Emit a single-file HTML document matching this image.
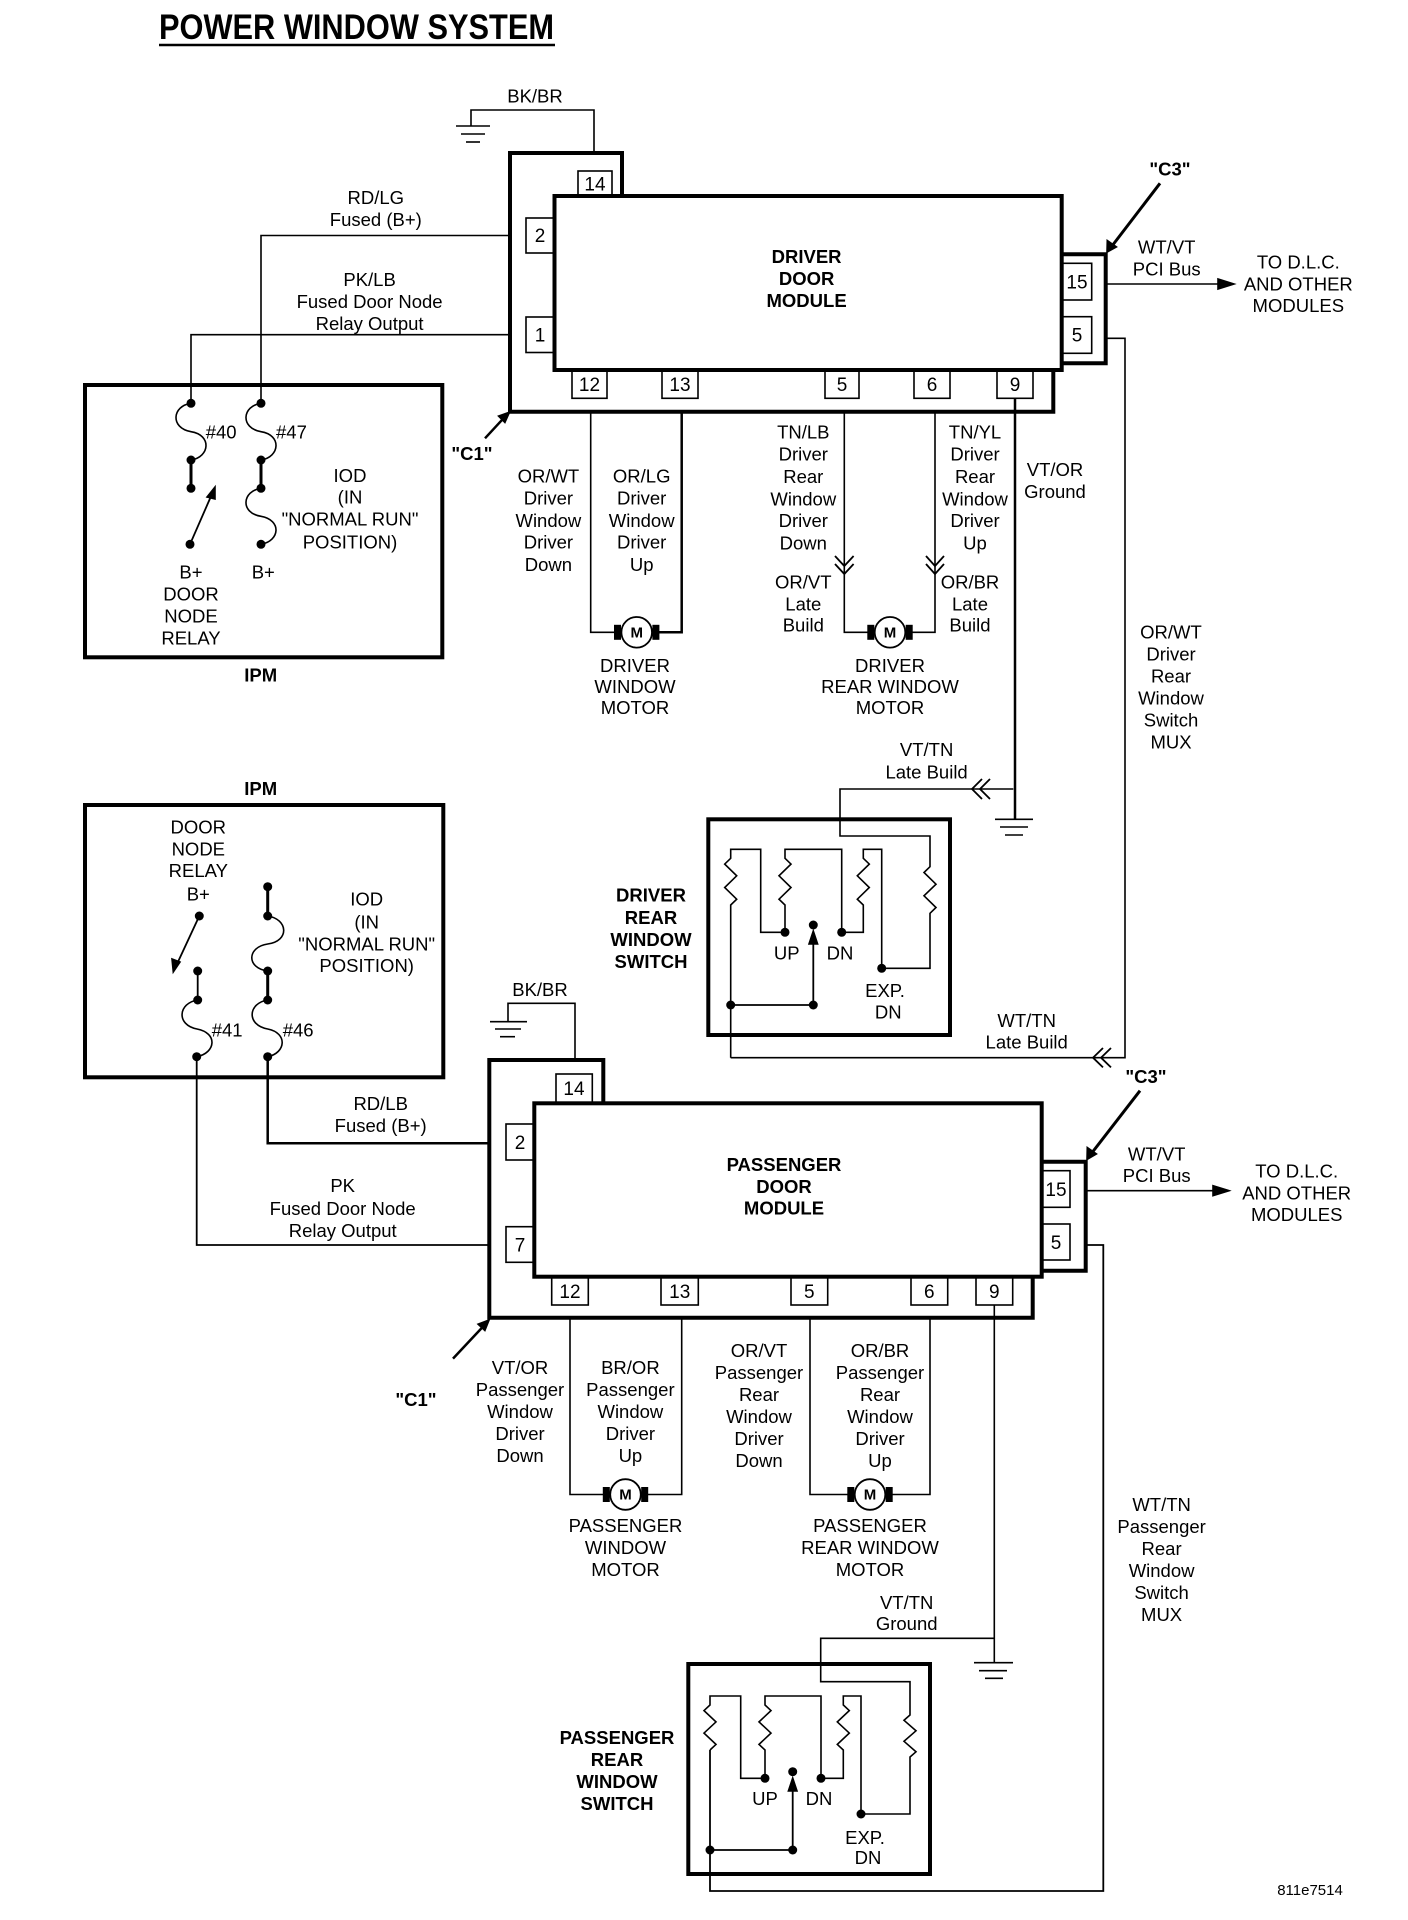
<!DOCTYPE html>
<html><head><meta charset="utf-8"><style>
html,body{margin:0;padding:0;background:#fff;}
svg{display:block;}
text{font-family:"Liberation Sans",Arial,sans-serif;font-size:18.5px;fill:#000;text-anchor:middle;}
.b{font-weight:bold;}
.p{font-size:19px;}
.s{text-anchor:start;}
</style></head><body>
<svg width="1408" height="1920" viewBox="0 0 1408 1920" xmlns="http://www.w3.org/2000/svg">
<g fill="none" stroke="#000" stroke-width="1.6">

<line x1="159" y1="45" x2="555" y2="45" stroke-width="2.5"/>

<polyline points="471,126 471,110 594,110 594,153"/>
<line x1="456" y1="126" x2="490" y2="126"/>
<line x1="461" y1="134" x2="485" y2="134"/>
<line x1="466" y1="142" x2="480" y2="142"/>

<polyline points="622,196 622,153 510,153 510,411.7 1053.3,411.7 1053.3,370" stroke-width="4"/>
<rect x="554.5" y="196" width="507.2" height="174" stroke-width="4"/>
<rect x="578" y="171" width="34" height="25"/>
<rect x="526" y="218" width="28.5" height="35"/>
<rect x="526" y="317" width="28.5" height="35.5"/>
<rect x="572" y="370" width="35" height="28.3"/>
<rect x="662" y="370" width="36" height="28.3"/>
<rect x="825" y="370" width="34" height="28.3"/>
<rect x="914" y="370" width="36" height="28.3"/>
<rect x="997" y="370" width="36" height="28.3"/>
<polyline points="1061.7,254.3 1105.7,254.3 1105.7,363.3 1061.7,363.3" stroke-width="4"/>
<rect x="1062.7" y="263.3" width="29" height="36.7"/>
<rect x="1062.7" y="316.7" width="29" height="36.6"/>
<line x1="1105.7" y1="284" x2="1222" y2="284"/>
<polygon points="1234,284 1218,279 1218,289" fill="#000"/>
<line x1="1160" y1="183.3" x2="1112" y2="246" stroke-width="3"/>
<polygon points="1106.7,252.7 1107,240 1117,247" fill="#000" stroke-width="1"/>

<line x1="485" y1="438.3" x2="505" y2="416.7" stroke-width="2.5"/>
<polygon points="510,411.7 498,416 505,423" fill="#000" stroke-width="1"/>

<polyline points="509.8,235.5 261,235.5 261,403.3"/>
<polyline points="509.8,334.7 191,334.7 191,403.3"/>

<rect x="85" y="385" width="357.3" height="272.3" stroke-width="4"/>
<path d="M191,403.3 C172,406 170,428 191,431.7 C212,435 210,457 191,460"/>
<line x1="191" y1="460" x2="191" y2="488.3" stroke-width="3"/>
<line x1="190" y1="544.3" x2="212" y2="494" stroke-width="1.8"/>
<polygon points="215,487 207,497 215,499" fill="#000"/>
<path d="M261,403.3 C242,406 240,428 261,431.7 C282,435 280,457 261,460"/>
<line x1="261" y1="460" x2="261" y2="488.3" stroke-width="3"/>
<path d="M261,488.3 C242,491 240,513 261,516.3 C282,520 280,541 261,544.3"/>

<polyline points="590.7,411.7 590.7,632.3 621,632.3"/>
<polyline points="681.7,411.7 681.7,632.3 652,632.3" stroke-width="2.5"/>
<circle cx="636.7" cy="632.3" r="15.3" stroke-width="1.8"/>
<polyline points="844.3,411.7 844.3,632.3 875,632.3"/>
<polyline points="935,411.7 935,632.3 905,632.3"/>
<circle cx="890" cy="632.3" r="15.3" stroke-width="1.8"/>
<polyline points="835,556 844.3,566 853.6,556" stroke-width="1.8"/>
<polyline points="835,564 844.3,574 853.6,564" stroke-width="1.8"/>
<polyline points="926,556 935,566 944,556" stroke-width="1.8"/>
<polyline points="926,564 935,574 944,564" stroke-width="1.8"/>

<line x1="1015" y1="398.3" x2="1015" y2="819.3" stroke-width="2.5"/>
<line x1="995" y1="819.3" x2="1033" y2="819.3"/>
<line x1="1000" y1="827" x2="1028" y2="827"/>
<line x1="1005" y1="835" x2="1023" y2="835"/>
<polyline points="1105.7,338.3 1125,338.3 1125,1057.7 730.7,1057.7"/>
<polyline points="1103,1048 1093,1057.7 1103,1067.4" stroke-width="1.8"/>
<polyline points="1111,1048 1101,1057.7 1111,1067.4" stroke-width="1.8"/>

<rect x="708.3" y="819.3" width="241.7" height="215.7" stroke-width="4"/>
<polyline points="1013.3,789 840,789 840,836 930,836 930,866.7 924,872.5 936,884.2 924,895.8 936,907.5 930,913.3 930,968.3 881.7,968.3"/>
<polyline points="982,779 972,789 982,799" stroke-width="1.8"/>
<polyline points="990,779 980,789 990,799" stroke-width="1.8"/>
<polyline points="785,932.3 760.7,932.3 760.7,849.3 730.7,849.3 730.7,858.3 724.7,864.1 736.7,875.8 724.7,887.5 736.7,899.2 730.7,905 730.7,1057.7"/>
<polyline points="785,932.3 785,905 779,899.2 791,887.5 779,875.8 791,864.1 785,858.3 785,849.3 841.7,849.3 841.7,932.3 863.3,932.3 863.3,905 857.3,899.2 869.3,887.5 857.3,875.8 869.3,864.1 863.3,858.3 863.3,849.3 881.7,849.3 881.7,968.3"/>
<polyline points="730.7,1005 813.3,1005 813.3,940" stroke-width="1.8"/>
<polygon points="813.3,931 809,944 817.6,944" fill="#000"/>

<rect x="85" y="805" width="358.3" height="272.3" stroke-width="4"/>
<line x1="199.3" y1="916" x2="177" y2="964" stroke-width="1.8"/>
<polygon points="173.3,972 172,959 180,962" fill="#000"/>
<line x1="197.7" y1="971" x2="197.7" y2="1000" stroke-width="1.8"/>
<path d="M197.7,1000 C178,1003 176,1025 197,1029 C218,1033 216,1053 196.7,1056.7"/>
<line x1="267.7" y1="886.7" x2="267.7" y2="916" stroke-width="3"/>
<path d="M267.7,916 C288,919 290,941 267.7,944 C247,947 246,968 267.7,971"/>
<line x1="267.7" y1="971" x2="267.7" y2="1000" stroke-width="3"/>
<path d="M267.7,1000 C248,1003 246,1025 267.7,1029 C288,1033 286,1053 267.7,1056.7"/>
<polyline points="267.7,1056.7 267.7,1143.3 489.3,1143.3" stroke-width="2.5"/>
<polyline points="196.7,1056.7 196.7,1245 489.3,1245" stroke-width="1.8"/>

<polyline points="508,1021.7 508,1003.3 575,1003.3 575,1060"/>
<line x1="490" y1="1021.7" x2="527" y2="1021.7"/>
<line x1="495" y1="1029" x2="521" y2="1029"/>
<line x1="500" y1="1036.7" x2="515" y2="1036.7"/>

<polyline points="603.3,1103.3 603.3,1060 489.3,1060 489.3,1317.7 1032.7,1317.7 1032.7,1276.7" stroke-width="4"/>
<rect x="534.3" y="1103.3" width="507.4" height="173.4" stroke-width="4"/>
<rect x="556" y="1074" width="36.3" height="29.3"/>
<rect x="506" y="1124" width="28.3" height="36"/>
<rect x="506" y="1226.7" width="28.3" height="35.6"/>
<rect x="551.7" y="1276.7" width="36.6" height="28.3"/>
<rect x="661" y="1276.7" width="37.3" height="28.3"/>
<rect x="791" y="1276.7" width="36.7" height="28.3"/>
<rect x="911" y="1276.7" width="36.7" height="28.3"/>
<rect x="976" y="1276.7" width="36.7" height="28.3"/>
<polyline points="1041.7,1161.7 1085.7,1161.7 1085.7,1270.7 1041.7,1270.7" stroke-width="4"/>
<rect x="1042" y="1170.7" width="28" height="36.6"/>
<rect x="1042" y="1224" width="28" height="36"/>
<line x1="1085.7" y1="1190.7" x2="1217" y2="1190.7"/>
<polygon points="1229,1190.7 1213,1185.7 1213,1195.7" fill="#000"/>
<line x1="1140" y1="1090.7" x2="1091" y2="1154" stroke-width="3"/>
<polygon points="1086.7,1160 1087,1147 1097,1154" fill="#000" stroke-width="1"/>
<line x1="453" y1="1358.6" x2="485" y2="1324.5" stroke-width="2.5"/>
<polygon points="489.6,1319.5 477.5,1324 485,1331" fill="#000" stroke-width="1"/>

<polyline points="570,1317.7 570,1494.5 610,1494.5"/>
<polyline points="681.7,1317.7 681.7,1494.5 641,1494.5"/>
<circle cx="625.5" cy="1494.5" r="15.3" stroke-width="1.8"/>
<polyline points="810,1317.7 810,1494.5 855,1494.5"/>
<polyline points="930,1317.7 930,1494.5 885,1494.5"/>
<circle cx="870" cy="1494.5" r="15.3" stroke-width="1.8"/>

<line x1="994.3" y1="1305" x2="994.3" y2="1662.7"/>
<line x1="974" y1="1662.7" x2="1013" y2="1662.7"/>
<line x1="979" y1="1670.7" x2="1007" y2="1670.7"/>
<line x1="985" y1="1678.3" x2="1003" y2="1678.3"/>
<polyline points="1085.7,1245 1103.3,1245 1103.3,1891 710,1891 710,1750" stroke-width="1.8"/>

<rect x="688.3" y="1664" width="241.7" height="210" stroke-width="4"/>
<polyline points="994.3,1638.3 820.7,1638.3 820.7,1681.7 910,1681.7 910,1715 904,1720.3 916,1730.8 904,1741.3 916,1751.8 910,1757 910,1814 861,1814"/>
<polyline points="765,1778.3 740.7,1778.3 740.7,1696 710,1696 710,1705 704,1710.6 716,1721.9 704,1733.1 716,1744.4 710,1750"/>
<polyline points="765,1778.3 765,1750 759,1744.4 771,1733.1 759,1721.9 771,1710.6 765,1705 765,1696 821,1696 821,1778.3 843.3,1778.3 843.3,1750 837.3,1744.4 849.3,1733.1 837.3,1721.9 849.3,1710.6 843.3,1705 843.3,1696 861,1696 861,1814"/>
<polyline points="710,1850 792.7,1850 792.7,1787" stroke-width="1.8"/>
<polygon points="792.7,1778 788.4,1791 797,1791" fill="#000"/>
</g>

<g fill="#000">
<circle cx="191" cy="403.3" r="4.5"/><circle cx="191" cy="460" r="4.5"/><circle cx="191" cy="488.3" r="4.5"/><circle cx="190" cy="544.3" r="4.5"/>
<circle cx="261" cy="403.3" r="4.5"/><circle cx="261" cy="460" r="4.5"/><circle cx="261" cy="488.3" r="4.5"/><circle cx="261" cy="544.3" r="4.5"/>
<circle cx="199.3" cy="916" r="4.5"/><circle cx="197.7" cy="971" r="4.5"/><circle cx="197.7" cy="1000" r="4.5"/><circle cx="196.7" cy="1056.7" r="4.5"/>
<circle cx="267.7" cy="886.7" r="4.5"/><circle cx="267.7" cy="916" r="4.5"/><circle cx="267.7" cy="971" r="4.5"/><circle cx="267.7" cy="1000" r="4.5"/><circle cx="267.7" cy="1056.7" r="4.5"/>
<circle cx="785" cy="932.3" r="4.5"/><circle cx="841.7" cy="932.3" r="4.5"/><circle cx="813.3" cy="925" r="4.5"/><circle cx="881.7" cy="968.3" r="4.5"/><circle cx="730.7" cy="1005" r="4.5"/><circle cx="813.3" cy="1005" r="4.5"/>
<circle cx="765" cy="1778.3" r="4.5"/><circle cx="821" cy="1778.3" r="4.5"/><circle cx="792.7" cy="1771.7" r="4.5"/><circle cx="861" cy="1814" r="4.5"/><circle cx="710" cy="1850" r="4.5"/><circle cx="792.7" cy="1850" r="4.5"/>
<rect x="614" y="624.8" width="7" height="15"/><rect x="652.4" y="624.8" width="7" height="15"/>
<rect x="867.3" y="624.8" width="7" height="15"/><rect x="905.7" y="624.8" width="7" height="15"/>
<rect x="602.8" y="1487" width="7" height="15"/><rect x="641.2" y="1487" width="7" height="15"/>
<rect x="847.3" y="1487" width="7" height="15"/><rect x="885.7" y="1487" width="7" height="15"/>
</g>

<text x="159" y="39" class="b s" style="font-size:35px" textLength="395" lengthAdjust="spacingAndGlyphs">POWER WINDOW SYSTEM</text>

<text x="535" y="102.5">BK/BR</text>
<text x="375.8" y="204">RD/LG</text><text x="375.8" y="226">Fused (B+)</text>
<text x="369.6" y="286">PK/LB</text><text x="369.6" y="308">Fused Door Node</text><text x="369.6" y="330">Relay Output</text>
<text class="b" x="806.6" y="263">DRIVER</text><text class="b" x="806.6" y="285">DOOR</text><text class="b" x="806.6" y="307">MODULE</text>
<text class="p" x="595" y="190.5">14</text><text class="p" x="540" y="242">2</text><text class="p" x="540" y="341.5">1</text>
<text class="p" x="589.5" y="391">12</text><text class="p" x="680" y="391">13</text><text class="p" x="842" y="391">5</text><text class="p" x="932" y="391">6</text><text class="p" x="1015" y="391">9</text>
<text class="p" x="1077" y="288.5">15</text><text class="p" x="1077" y="341.5">5</text>
<text class="b" x="1170" y="175.3">"C3"</text>
<text x="1166.7" y="253.7">WT/VT</text><text x="1166.7" y="275.3">PCI Bus</text>
<text x="1298.3" y="268.7">TO D.L.C.</text><text x="1298.3" y="290.3">AND OTHER</text><text x="1298.3" y="312">MODULES</text>
<text class="b" x="472" y="460">"C1"</text>
<text class="s" x="205.7" y="438.7">#40</text><text class="s" x="276" y="438.7">#47</text>
<text x="350" y="482">IOD</text><text x="350" y="503.7">(IN</text><text x="350" y="525.3">"NORMAL RUN"</text><text x="350" y="548.7">POSITION)</text>
<text x="191" y="578.7">B+</text><text x="191" y="600.7">DOOR</text><text x="191" y="622.7">NODE</text><text x="191" y="644.7">RELAY</text>
<text x="263.3" y="578.7">B+</text>
<text class="b" x="260.7" y="681.4">IPM</text>

<text x="548.4" y="482.7">OR/WT</text><text x="548.4" y="504.7">Driver</text><text x="548.4" y="527">Window</text><text x="548.4" y="548.7">Driver</text><text x="548.4" y="571">Down</text>
<text x="641.7" y="482.7">OR/LG</text><text x="641.7" y="504.7">Driver</text><text x="641.7" y="527">Window</text><text x="641.7" y="548.7">Driver</text><text x="641.7" y="571">Up</text>
<text x="803.3" y="438.7">TN/LB</text><text x="803.3" y="460.3">Driver</text><text x="803.3" y="483">Rear</text><text x="803.3" y="505.3">Window</text><text x="803.3" y="527">Driver</text><text x="803.3" y="549.7">Down</text>
<text x="803.3" y="588.7">OR/VT</text><text x="803.3" y="610.3">Late</text><text x="803.3" y="631.3">Build</text>
<text x="975" y="438.7">TN/YL</text><text x="975" y="460.3">Driver</text><text x="975" y="483">Rear</text><text x="975" y="505.3">Window</text><text x="975" y="527">Driver</text><text x="975" y="549.7">Up</text>
<text x="970" y="588.7">OR/BR</text><text x="970" y="610.3">Late</text><text x="970" y="631.3">Build</text>
<text x="1055" y="476">VT/OR</text><text x="1055" y="498">Ground</text>
<text x="635" y="672">DRIVER</text><text x="635" y="693">WINDOW</text><text x="635" y="714">MOTOR</text>
<text x="890" y="672">DRIVER</text><text x="890" y="693">REAR WINDOW</text><text x="890" y="714">MOTOR</text>
<text x="1171" y="638.6">OR/WT</text><text x="1171" y="660.6">Driver</text><text x="1171" y="682.6">Rear</text><text x="1171" y="704.6">Window</text><text x="1171" y="726.6">Switch</text><text x="1171" y="748.7">MUX</text>
<text x="926.6" y="756">VT/TN</text><text x="926.6" y="778.7">Late Build</text>
<text class="b" x="651" y="901.7">DRIVER</text><text class="b" x="651" y="923.8">REAR</text><text class="b" x="651" y="945.8">WINDOW</text><text class="b" x="651" y="967.8">SWITCH</text>
<text x="786.7" y="959.7">UP</text><text x="840" y="959.7">DN</text><text x="885" y="997">EXP.</text><text x="888.3" y="1018.7">DN</text>
<text x="1026.7" y="1027">WT/TN</text><text x="1026.7" y="1048.7">Late Build</text>

<text class="b" x="260.7" y="795">IPM</text>
<text x="198.3" y="833.7">DOOR</text><text x="198.3" y="855.3">NODE</text><text x="198.3" y="877">RELAY</text><text x="198.3" y="900.3">B+</text>
<text x="366.7" y="905.3">IOD</text><text x="366.7" y="928.7">(IN</text><text x="366.7" y="950.3">"NORMAL RUN"</text><text x="366.7" y="972">POSITION)</text>
<text class="s" x="211.7" y="1036.3">#41</text><text class="s" x="282.7" y="1036.3">#46</text>
<text x="540" y="996">BK/BR</text>
<text x="380.7" y="1109.8">RD/LB</text><text x="380.7" y="1131.9">Fused (B+)</text>
<text x="342.7" y="1191.8">PK</text><text x="342.7" y="1215">Fused Door Node</text><text x="342.7" y="1237">Relay Output</text>
<text class="b" x="784" y="1171">PASSENGER</text><text class="b" x="784" y="1193">DOOR</text><text class="b" x="784" y="1214.3">MODULE</text>
<text class="p" x="574" y="1095">14</text><text class="p" x="520" y="1149">2</text><text class="p" x="520" y="1251.5">7</text>
<text class="p" x="570" y="1298">12</text><text class="p" x="679.7" y="1298">13</text><text class="p" x="809.3" y="1298">5</text><text class="p" x="929.3" y="1298">6</text><text class="p" x="994.3" y="1298">9</text>
<text class="p" x="1056" y="1196">15</text><text class="p" x="1056" y="1249">5</text>
<text class="b" x="1146" y="1083">"C3"</text>
<text x="1156.7" y="1160.3">WT/VT</text><text x="1156.7" y="1182">PCI Bus</text>
<text x="1296.7" y="1177.7">TO D.L.C.</text><text x="1296.7" y="1199.7">AND OTHER</text><text x="1296.7" y="1221">MODULES</text>
<text class="b" x="416" y="1406">"C1"</text>
<text x="520" y="1374">VT/OR</text><text x="520" y="1396">Passenger</text><text x="520" y="1418">Window</text><text x="520" y="1440">Driver</text><text x="520" y="1462">Down</text>
<text x="630.4" y="1374">BR/OR</text><text x="630.4" y="1396">Passenger</text><text x="630.4" y="1418">Window</text><text x="630.4" y="1440">Driver</text><text x="630.4" y="1462">Up</text>
<text x="759" y="1357">OR/VT</text><text x="759" y="1379">Passenger</text><text x="759" y="1401">Rear</text><text x="759" y="1423">Window</text><text x="759" y="1445">Driver</text><text x="759" y="1467">Down</text>
<text x="880" y="1357">OR/BR</text><text x="880" y="1379">Passenger</text><text x="880" y="1401">Rear</text><text x="880" y="1423">Window</text><text x="880" y="1445">Driver</text><text x="880" y="1467">Up</text>
<text x="625.5" y="1532">PASSENGER</text><text x="625.5" y="1554">WINDOW</text><text x="625.5" y="1576">MOTOR</text>
<text x="870" y="1532">PASSENGER</text><text x="870" y="1554">REAR WINDOW</text><text x="870" y="1576">MOTOR</text>
<text x="906.7" y="1609">VT/TN</text><text x="906.7" y="1630">Ground</text>
<text x="1161.6" y="1511">WT/TN</text><text x="1161.6" y="1533">Passenger</text><text x="1161.6" y="1555">Rear</text><text x="1161.6" y="1577">Window</text><text x="1161.6" y="1599">Switch</text><text x="1161.6" y="1621">MUX</text>
<text class="b" x="617" y="1744">PASSENGER</text><text class="b" x="617" y="1766">REAR</text><text class="b" x="617" y="1788">WINDOW</text><text class="b" x="617" y="1810">SWITCH</text>
<text x="765" y="1805">UP</text><text x="819" y="1805">DN</text><text x="865" y="1844">EXP.</text><text x="868" y="1864">DN</text>
<text x="1310" y="1895" style="font-size:15px">811e7514</text>

<text class="b" x="636.7" y="637.5" style="font-size:15px">M</text><text class="b" x="890" y="637.5" style="font-size:15px">M</text>
<text class="b" x="625.5" y="1499.7" style="font-size:15px">M</text><text class="b" x="870" y="1499.7" style="font-size:15px">M</text>
</svg>
</body></html>
